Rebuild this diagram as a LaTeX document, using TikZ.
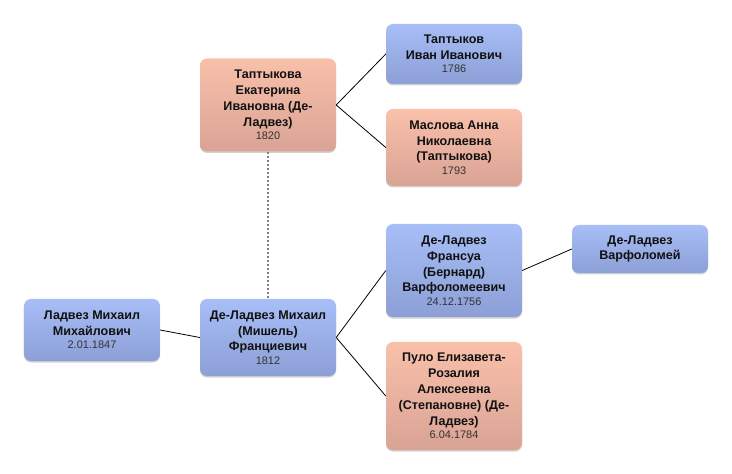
\documentclass[tikz,border=0pt]{standalone}
\usepackage{fontspec}
\setmainfont{Liberation Sans}
\usetikzlibrary{shadows}
\definecolor{btop}{HTML}{A8BEF7}
\definecolor{bbot}{HTML}{8C9FD6}
\definecolor{ptop}{HTML}{F9C0AA}
\definecolor{pbot}{HTML}{D9A395}
\definecolor{txt}{HTML}{111111}
\definecolor{dtxt}{HTML}{333333}
\definecolor{dotc}{HTML}{808080}
\newcommand{\pdate}[1]{\\[-2.5bp]{\fontsize{11}{12}\selectfont\mdseries\color{dtxt}#1}}
\tikzset{
  person/.style={rounded corners=7bp, minimum width=136bp, inner sep=0pt,
    align=center, text=txt, font=\fontsize{12.6}{16}\selectfont\bfseries,
    drop shadow={shadow xshift=0bp, shadow yshift=-1.5bp, opacity=0.18, fill=black}},
  male/.style={person, top color=btop, bottom color=bbot},
  female/.style={person, top color=ptop, bottom color=pbot},
  link/.style={draw=black, line width=0.8bp},
  dotlink/.style={draw=dotc, line width=1.6bp, dash pattern=on 2bp off 2bp}
}
\begin{document}
\begin{tikzpicture}[x=1bp,y=-1bp]
\useasboundingbox (0,0) rectangle (732,474);
\node[female, minimum height=93bp] (ekat) at (268,105) {Таптыкова\\Екатерина\\Ивановна (Де-\\Ладвез)\pdate{1820}};
\node[male, minimum height=60bp] (ivan) at (454,54) {Таптыков\\Иван Иванович\pdate{1786}};
\node[female, minimum height=77bp] (masl) at (454,147.5) {Маслова Анна\\Николаевна\\(Таптыкова)\pdate{1793}};
\node[male, minimum height=62bp] (ladv) at (92,330) {Ладвез Михаил\\Михайлович\pdate{2.01.1847}};
\node[male, minimum height=77bp] (mikh) at (268,337.5) {Де-Ладвез Михаил\\(Мишель)\\Франциевич\pdate{1812}};
\node[male, minimum height=93bp] (fran) at (454,270.5) {Де-Ладвез\\Франсуа\\(Бернард)\\Варфоломеевич\pdate{24.12.1756}};
\node[male, minimum height=48bp] (varf) at (640,249) {Де-Ладвез\\Варфоломей};
\node[female, minimum height=108bp] (pulo) at (454,396) {Пуло Елизавета-\\Розалия\\Алексеевна\\(Степановне) (Де-\\Ладвез)\pdate{6.04.1784}};
\draw[link] (ekat.east) -- (ivan.west);
\draw[link] (ekat.east) -- (masl.west);
\draw[dotlink] (ekat.south) -- (mikh.north);
\draw[link] (ladv.east) -- (mikh.west);
\draw[link] (mikh.east) -- (fran.west);
\draw[link] (mikh.east) -- (pulo.west);
\draw[link] (fran.east) -- (varf.west);
\end{tikzpicture}
\end{document}
